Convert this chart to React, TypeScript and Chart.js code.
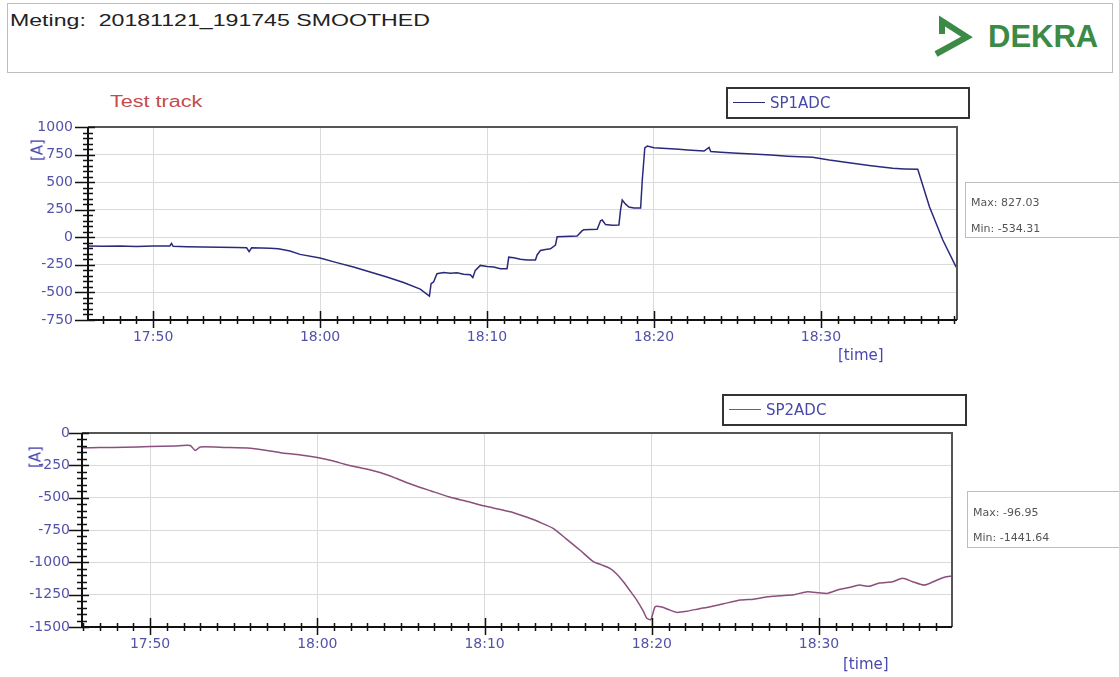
import React, { useEffect, useRef } from "react";
import { Chart, registerables } from "chart.js";

Chart.register(...registerables);

// time axis: minutes after 17:00
const timeTicks = [50, 60, 70, 80, 90];

const sp1Times = [46.1, 47.0, 48.0, 49.0, 50.0, 51.0, 51.1, 51.2, 52.0, 53.0, 54.0, 55.0, 55.6, 55.75, 55.9, 56.5, 57.0, 57.5, 58.2, 58.8, 60.0, 61.0, 62.0, 63.0, 64.0, 65.0, 66.0, 66.55, 66.65, 66.8, 67.0, 67.4, 67.8, 68.2, 68.6, 69.0, 69.15, 69.3, 69.6, 70.0, 70.4, 70.8, 71.2, 71.3, 71.6, 72.0, 72.4, 72.9, 73.0, 73.2, 73.5, 73.8, 74.1, 74.2, 74.6, 75.0, 75.4, 75.7, 75.8, 76.2, 76.6, 76.8, 76.9, 77.1, 77.5, 77.9, 78.0, 78.1, 78.3, 78.5, 78.8, 79.2, 79.3, 79.45, 79.6, 80.0, 81.0, 81.5, 82.0, 83.0, 83.3, 83.4, 84.0, 85.0, 85.9, 87.0, 88.0, 89.5, 90.5, 91.9, 93.0, 94.3, 95.0, 95.8, 96.5, 97.3, 98.1];
const sp1Values = [-80, -82, -80, -84, -80, -78, -55, -82, -85, -88, -90, -92, -95, -130, -95, -98, -100, -105, -125, -155, -187, -230, -270, -315, -360, -410, -470, -534, -420, -405, -330, -320, -325, -322, -335, -340, -365, -300, -255, -265, -270, -285, -285, -180, -185, -200, -205, -206, -160, -120, -110, -105, -70, 5, 8, 10, 12, 60, 68, 70, 72, 150, 157, 115, 110, 112, 250, 338, 300, 275, 265, 265, 520, 810, 827, 812, 803, 798, 792, 782, 815, 778, 772, 763, 755, 745, 735, 725, 700, 671, 648, 625, 620, 616, 277, -25, -270];

const sp2Times = [45.93, 47.0, 48.5, 50.0, 51.5, 52.4, 52.7, 53.0, 54.5, 56.0, 57.2, 57.8, 59.0, 60.0, 60.9, 61.8, 62.8, 63.8, 64.7, 65.7, 66.8, 67.9, 69.0, 70.0, 70.9, 71.7, 72.5, 73.3, 74.1, 74.9, 75.7, 76.5, 77.0, 77.5, 77.9, 78.3, 78.7, 79.1, 79.5, 79.7, 79.95, 80.2, 80.6, 81.0, 81.5, 82.1, 82.8, 83.5, 84.3, 85.3, 86.1, 86.9, 87.7, 88.5, 89.3, 90.0, 90.5, 91.2, 91.8, 92.4, 93.0, 93.6, 94.4, 95.0, 95.6, 96.3, 97.0, 97.5, 97.95];
const sp2Values = [-115, -113, -110, -105, -100, -97, -135, -108, -112, -118, -139, -152, -170, -190, -215, -247, -275, -308, -350, -400, -448, -495, -530, -565, -590, -614, -650, -690, -737, -820, -905, -995, -1020, -1047, -1090, -1150, -1220, -1292, -1380, -1433, -1442, -1343, -1345, -1365, -1387, -1378, -1360, -1343, -1320, -1292, -1285, -1266, -1258, -1250, -1227, -1235, -1240, -1210, -1195, -1176, -1185, -1160, -1150, -1124, -1150, -1176, -1140, -1115, -1106];

const sp1YTicks = [-750, -500, -250, 0, 250, 500, 750, 1000];
const sp2YTicks = [-1500, -1250, -1000, -750, -500, -250, 0];

function fmtTime(v: number) {
  const h = 17 + Math.floor(v / 60);
  const m = Math.round(v % 60);
  return `${h}:${String(m).padStart(2, "0")}`;
}

const axisDecor = {
  id: "axisDecor",
  afterDraw(chart: any) {
    const { ctx, chartArea, scales } = chart;
    const { left, right, top, bottom } = chartArea;
    const x = scales.x;
    const y = scales.y;
    ctx.save();
    ctx.strokeStyle = "#555";
    ctx.lineWidth = 2;
    ctx.beginPath();
    ctx.moveTo(left, top);
    ctx.lineTo(right, top);
    ctx.lineTo(right, bottom);
    ctx.stroke();
    ctx.strokeStyle = "#111";
    ctx.lineWidth = 2;
    ctx.beginPath();
    ctx.moveTo(left, top);
    ctx.lineTo(left, bottom);
    ctx.lineTo(right, bottom);
    ctx.stroke();
    ctx.lineWidth = 1.5;
    ctx.beginPath();
    for (let v = Math.ceil(y.min / 50) * 50; v <= y.max; v += 50) {
      const py = Math.round(y.getPixelForValue(v)) + 0.5;
      const major = v % 250 === 0;
      ctx.moveTo(left - (major ? 13 : 5), py);
      ctx.lineTo(left + (major ? 7 : 5), py);
    }
    for (let m = Math.ceil(x.min); m <= x.max; m++) {
      const px = Math.round(x.getPixelForValue(m)) + 0.5;
      const major = m % 10 === 0;
      ctx.moveTo(px, bottom - (major ? 9 : 4));
      ctx.lineTo(px, bottom + (major ? 8 : 4));
    }
    ctx.stroke();
    ctx.restore();
  },
};

type ChartProps = {
  times: number[];
  values: number[];
  color: string;
  xMin: number;
  xMax: number;
  yMin: number;
  yMax: number;
  yTicks: number[];
  top: number;
  height: number;
  padTop: number;
  padRight: number;
  yWidth: number;
  xHeight: number;
  yPad: number;
  tension: number;
};

function LineChart(p: ChartProps) {
  const ref = useRef<HTMLCanvasElement>(null);
  useEffect(() => {
    if (!ref.current) return;
    const tickFont = { family: "DejaVu Sans", size: 14 };
    const chart = new Chart(ref.current, {
      type: "line",
      data: {
        datasets: [
          {
            data: p.times.map((t, i) => ({ x: t, y: p.values[i] })),
            borderColor: p.color,
            borderWidth: 1.5,
            pointRadius: 0,
            tension: p.tension,
            fill: false,
          },
        ],
      },
      options: {
        animation: false,
        responsive: false,
        devicePixelRatio: 1,
        layout: { padding: { top: p.padTop, right: p.padRight, left: 0, bottom: 0 } },
        plugins: { legend: { display: false }, tooltip: { enabled: false } },
        scales: {
          x: {
            type: "linear",
            min: p.xMin,
            max: p.xMax,
            afterBuildTicks: (s: any) => {
              s.ticks = timeTicks.map((v) => ({ value: v }));
            },
            afterFit: (s: any) => {
              s.height = p.xHeight;
              s.paddingLeft = 0;
              s.paddingRight = 0;
            },
            grid: { color: "#dadada", lineWidth: 1, drawTicks: false },
            border: { display: false },
            ticks: {
              padding: 9,
              color: "#5252a8",
              font: tickFont,
              maxRotation: 0,
              autoSkip: false,
              callback: (v: any) => fmtTime(Number(v)),
            },
          },
          y: {
            type: "linear",
            min: p.yMin,
            max: p.yMax,
            afterBuildTicks: (s: any) => {
              s.ticks = p.yTicks.map((v) => ({ value: v }));
            },
            afterFit: (s: any) => {
              s.width = p.yWidth;
              s.paddingTop = 0;
              s.paddingBottom = 0;
            },
            grid: { color: "#dadada", lineWidth: 1, drawTicks: false },
            border: { display: false },
            ticks: {
              padding: p.yPad,
              color: "#5252a8",
              font: tickFont,
              autoSkip: false,
              callback: (v: any) => String(v),
            },
          },
        },
      },
      plugins: [axisDecor],
    } as any);
    return () => chart.destroy();
  }, []);
  return (
    <canvas
      ref={ref}
      width={1000}
      height={p.height}
      style={{ position: "absolute", left: 0, top: p.top, width: 1000, height: p.height }}
    />
  );
}

const abs = (o: any): React.CSSProperties => ({ position: "absolute", whiteSpace: "nowrap", lineHeight: 1, ...o });

export default function App() {
  const dv = "DejaVu Sans";
  const lib = "'Liberation Sans', Arial, sans-serif";
  return (
    <div style={{ position: "fixed", left: 0, top: 0, width: 1119, height: 677, background: "#fff", overflow: "hidden" }}>
      {/* header */}
      <div style={abs({ left: 7, top: 3, width: 1104, height: 68, border: "1px solid #bdbdbd" })} />
      <div style={abs({ left: 10, top: 12, fontFamily: lib, fontSize: 17, color: "#222", transform: "scaleX(1.36)", transformOrigin: "left top" })}>
        Meting:&nbsp; 20181121_191745 SMOOTHED
      </div>
      <svg style={{ position: "absolute", left: 0, top: 0 }} width={1119} height={80}>
        <polyline points="942,34 942,21 967,37 936,54" fill="none" stroke="#3b8a46" strokeWidth={6} strokeLinejoin="miter" />
      </svg>
      <div style={abs({ left: 988, top: 21, fontFamily: lib, fontWeight: "bold", fontSize: 31, color: "#3b8a46" })}>DEKRA</div>

      {/* top chart */}
      <div style={abs({ left: 110, top: 94, fontFamily: lib, fontSize: 16, color: "#c44c4c", transform: "scaleX(1.35)", transformOrigin: "left top" })}>
        Test track
      </div>
      <LineChart
        times={sp1Times}
        values={sp1Values}
        color="#2a2a7c"
        xMin={46.1}
        xMax={98.15}
        yMin={-750}
        yMax={1000}
        yTicks={sp1YTicks}
        top={110}
        height={260}
        padTop={17}
        padRight={43}
        yWidth={88}
        xHeight={50}
        yPad={15}
        tension={0}
      />
      <div style={abs({ left: 38, top: 150, fontFamily: dv, fontSize: 15, color: "#4848b0", transform: "translate(-50%,-50%) rotate(-90deg)" })}>[A]</div>
      <div style={abs({ left: 838, top: 348, fontFamily: dv, fontSize: 15, color: "#4848b0" })}>[time]</div>
      <div style={abs({ left: 726, top: 87, width: 240, height: 28, border: "2px solid #333" })} />
      <div style={abs({ left: 733, top: 102, width: 32, height: 0, borderTop: "1.5px solid #2a2a7c" })} />
      <div style={abs({ left: 770, top: 96, fontFamily: dv, fontSize: 15, color: "#4848a8" })}>SP1ADC</div>
      <div style={abs({ left: 965, top: 182, width: 160, height: 54, border: "1px solid #bdbdbd" })} />
      <div style={abs({ left: 971, top: 197, fontFamily: dv, fontSize: 11, color: "#555" })}>Max: 827.03</div>
      <div style={abs({ left: 971, top: 223, fontFamily: dv, fontSize: 11, color: "#555" })}>Min: -534.31</div>

      {/* bottom chart */}
      <LineChart
        times={sp2Times}
        values={sp2Values}
        color="#8a4f7c"
        xMin={45.93}
        xMax={97.95}
        yMin={-1500}
        yMax={0}
        yTicks={sp2YTicks}
        top={420}
        height={257}
        padTop={13}
        padRight={48}
        yWidth={82}
        xHeight={50}
        yPad={12}
        tension={0.2}
      />
      <div style={abs({ left: 36, top: 457, fontFamily: dv, fontSize: 15, color: "#4848b0", transform: "translate(-50%,-50%) rotate(-90deg)" })}>[A]</div>
      <div style={abs({ left: 843, top: 657, fontFamily: dv, fontSize: 15, color: "#4848b0" })}>[time]</div>
      <div style={abs({ left: 722, top: 394, width: 241, height: 28, border: "2px solid #333" })} />
      <div style={abs({ left: 729, top: 409, width: 32, height: 0, borderTop: "1.5px solid #8a4f7c" })} />
      <div style={abs({ left: 766, top: 403, fontFamily: dv, fontSize: 15, color: "#4848a8" })}>SP2ADC</div>
      <div style={abs({ left: 967, top: 491, width: 160, height: 55, border: "1px solid #bdbdbd" })} />
      <div style={abs({ left: 973, top: 507, fontFamily: dv, fontSize: 11, color: "#555" })}>Max: -96.95</div>
      <div style={abs({ left: 973, top: 532, fontFamily: dv, fontSize: 11, color: "#555" })}>Min: -1441.64</div>
    </div>
  );
}
